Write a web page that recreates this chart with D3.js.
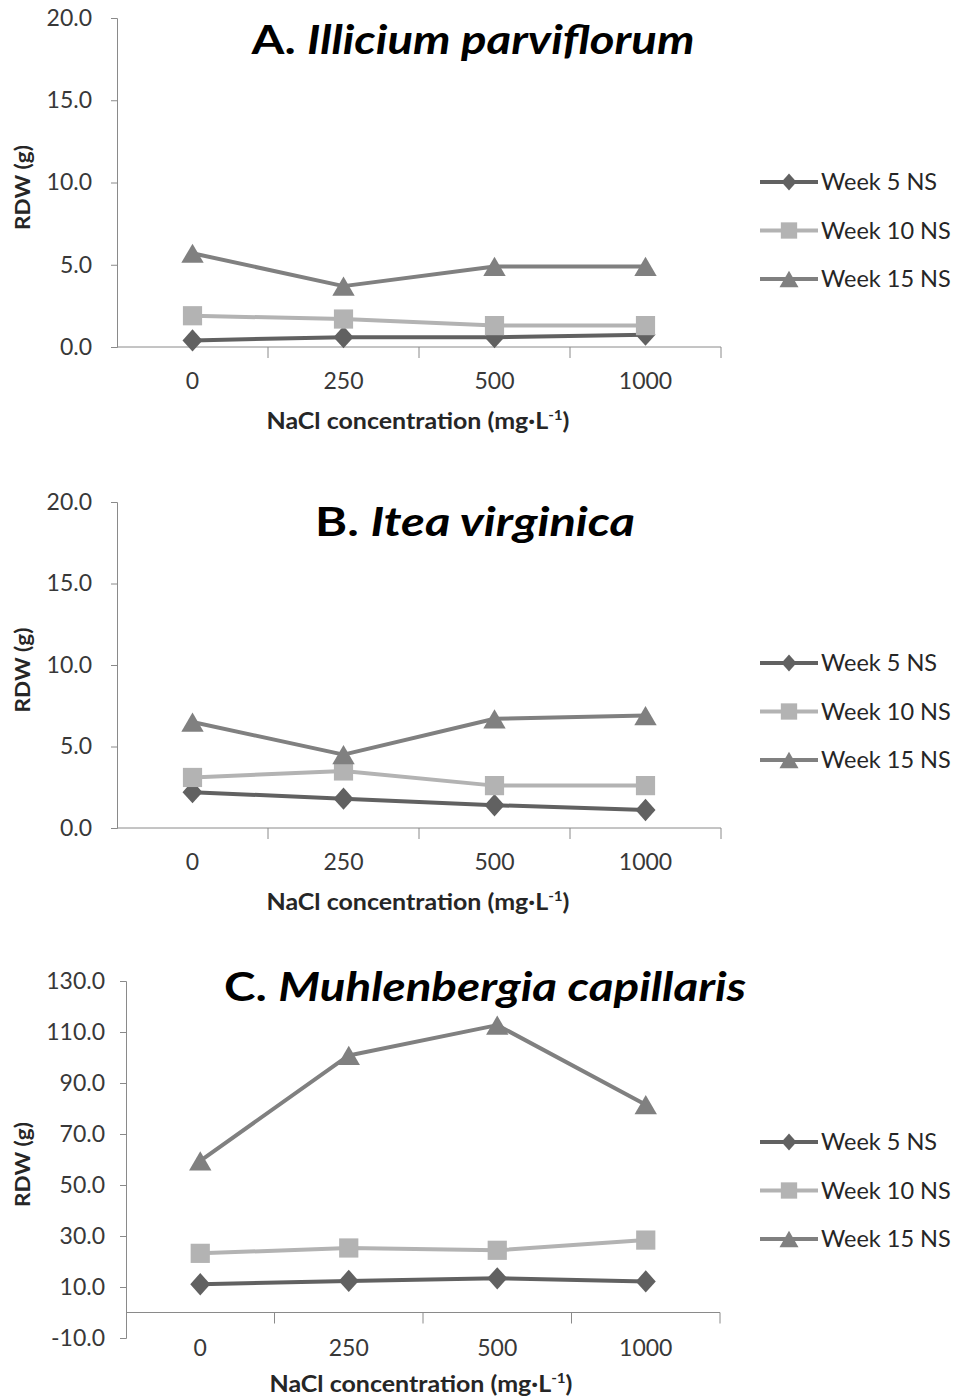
<!DOCTYPE html>
<html>
<head>
<meta charset="utf-8">
<script src="https://cdn.jsdelivr.net/npm/d3@7"></script>
<style>
  html, body { margin: 0; padding: 0; background: #fff; }
  svg { display: block; font-family: Lato, "Open Sans", sans-serif; }
</style>
</head>
<body>
<svg id="chart" width="957" height="1399"></svg>
<script>
// NaCl treatments (mg·L-1) and legend entries
const categories = ["0", "250", "500", "1000"];
const seriesNames = ["Week 5 NS", "Week 10 NS", "Week 15 NS"];

// Root dry weight (g), Illicium parviflorum
const illiciumWeek5 = [0.4, 0.6, 0.6, 0.75];
const illiciumWeek10 = [1.9, 1.7, 1.3, 1.3];
const illiciumWeek15 = [5.7, 3.7, 4.9, 4.9];

// Root dry weight (g), Itea virginica
const iteaWeek5 = [2.2, 1.8, 1.4, 1.1];
const iteaWeek10 = [3.1, 3.5, 2.6, 2.6];
const iteaWeek15 = [6.5, 4.5, 6.7, 6.9];

// Root dry weight (g), Muhlenbergia capillaris
const muhlenbergiaWeek5 = [11.1, 12.4, 13.4, 12.2];
const muhlenbergiaWeek10 = [23.2, 25.3, 24.4, 28.4];
const muhlenbergiaWeek15 = [59.5, 100.8, 112.7, 81.5];

// y-axis tick values
const ticksShrubs = [0, 5, 10, 15, 20];
const ticksGrass = [-10, 10, 30, 50, 70, 90, 110, 130];

const svg = d3.select("#chart");

const seriesStyle = [
  { color: "#616161", shape: "diamond" },
  { color: "#b3b3b3", shape: "square" },
  { color: "#808080", shape: "triangle" }
];

// one decimal, plain hyphen for negatives
const fmt = d => (d < 0 ? "-" : "") + Math.abs(d).toFixed(1);

// marker path generators (centered on 0,0)
function markerPath(shape, s) {
  if (shape === "diamond") {
    const w = s * 0.5, h = s * 0.56;
    return `M0,${-h}L${w},0L0,${h}L${-w},0Z`;
  }
  if (shape === "square") {
    const h = s * 0.48;
    return `M${-h},${-h}H${h}V${h}H${-h}Z`;
  }
  const w = s * 0.56, h = s * 0.48;
  return `M0,${-h}L${w},${h}L${-w},${h}Z`;
}

const panels = [
  {
    genus: "A. ", species: "Illicium parviflorum",
    series: [illiciumWeek5, illiciumWeek10, illiciumWeek15],
    domain: [0, 20], ticks: ticksShrubs,
    left: 117, right: 721, top: 18, bottom: 347,
    titleX: 473, titleY: 54, titleW: 443,
    labelX: 92, legendY: 182
  },
  {
    genus: "B.  ", species: "Itea virginica",
    series: [iteaWeek5, iteaWeek10, iteaWeek15],
    domain: [0, 20], ticks: ticksShrubs,
    left: 117, right: 721, top: 502, bottom: 828,
    titleX: 475, titleY: 536, titleW: 320,
    labelX: 92, legendY: 663
  },
  {
    genus: "C. ", species: "Muhlenbergia capillaris",
    series: [muhlenbergiaWeek5, muhlenbergiaWeek10, muhlenbergiaWeek15],
    domain: [-10, 130], ticks: ticksGrass,
    left: 126, right: 720, top: 981, bottom: 1338,
    titleX: 485, titleY: 1001, titleW: 522,
    labelX: 105, legendY: 1142
  }
];

panels.forEach(p => {
  const g = svg.append("g");

  const x = d3.scaleBand().domain(categories).range([p.left, p.right]).padding(0);
  const y = d3.scaleLinear().domain(p.domain).range([p.bottom, p.top]);
  const axisY = y(Math.max(p.domain[0], 0));

  // y axis
  const yAxis = g.append("g")
    .attr("transform", `translate(${p.left},0)`)
    .call(d3.axisLeft(y).tickValues(p.ticks).tickSize(6).tickPadding(p.left - p.labelX - 6)
      .tickFormat(fmt));
  yAxis.select(".domain").attr("stroke", "#8a8a8a");
  yAxis.selectAll(".tick line").attr("stroke", "#8a8a8a");
  yAxis.selectAll(".tick text")
    .attr("font-size", 23).attr("fill", "#383838")
    .attr("font-family", "Lato, sans-serif");

  // x axis crossing at zero, ticks between categories
  const xAxis = g.append("g")
    .attr("transform", `translate(0,${axisY})`);
  xAxis.append("line")
    .attr("x1", p.left).attr("x2", p.right)
    .attr("stroke", "#8a8a8a");
  const bounds = categories.map(c => x(c)).slice(1).concat([p.right]);
  xAxis.selectAll(".bound").data(bounds).join("line")
    .attr("class", "bound")
    .attr("x1", d => d).attr("x2", d => d)
    .attr("y1", 0).attr("y2", 11)
    .attr("stroke", "#8a8a8a");

  // category labels below the plot
  g.selectAll(".cat").data(categories).join("text")
    .attr("class", "cat")
    .attr("x", d => x(d) + x.bandwidth() / 2)
    .attr("y", p.bottom + (p.domain[0] < 0 ? 18 : 42))
    .attr("text-anchor", "middle")
    .attr("font-size", 23).attr("fill", "#383838")
    .text(d => d);

  // axis titles
  const xt = g.append("text")
    .attr("x", 418 + (p.domain[0] < 0 ? 3 : 0))
    .attr("y", p.bottom + (p.domain[0] < 0 ? 54 : 82))
    .attr("text-anchor", "middle")
    .attr("font-size", 23).attr("font-weight", "bold").attr("fill", "#262626")
    .attr("textLength", 303).attr("lengthAdjust", "spacingAndGlyphs");
  xt.append("tspan").text("NaCl concentration (mg·L");
  xt.append("tspan").attr("font-size", 14).attr("dy", -9).text("-1");
  xt.append("tspan").attr("dy", 9).text(")");

  g.append("text")
    .attr("transform", `translate(30,${(p.top + p.bottom) / 2 + 5}) rotate(-90)`)
    .attr("text-anchor", "middle")
    .attr("font-size", 21).attr("font-weight", "bold").attr("fill", "#262626")
    .attr("textLength", 85).attr("lengthAdjust", "spacingAndGlyphs")
    .text("RDW (g)");

  // panel title
  const t = g.append("text")
    .attr("x", p.titleX).attr("y", p.titleY)
    .attr("text-anchor", "middle")
    .attr("font-size", 40).attr("font-weight", "bold").attr("fill", "#000")
    .attr("textLength", p.titleW).attr("lengthAdjust", "spacingAndGlyphs");
  t.append("tspan").text(p.genus);
  t.append("tspan").attr("font-style", "italic").text(p.species);

  // series lines and markers
  const line = d3.line()
    .x((d, i) => x(categories[i]) + x.bandwidth() / 2)
    .y(d => y(d));

  p.series.forEach((vals, si) => {
    const st = seriesStyle[si];
    g.append("path")
      .datum(vals)
      .attr("d", line)
      .attr("fill", "none")
      .attr("stroke", st.color)
      .attr("stroke-width", 4)
      .attr("stroke-linejoin", "round");
    g.selectAll(".m" + si).data(vals).join("path")
      .attr("class", "m" + si)
      .attr("transform", (d, i) => `translate(${x(categories[i]) + x.bandwidth() / 2},${y(d)})`)
      .attr("d", markerPath(st.shape, 20))
      .attr("fill", st.color);
  });

  // legend
  seriesNames.forEach((name, si) => {
    const st = seriesStyle[si];
    const ly = p.legendY + si * 48.5;
    const lg = g.append("g").attr("transform", `translate(0,${ly})`);
    lg.append("line")
      .attr("x1", 760).attr("x2", 818)
      .attr("stroke", st.color).attr("stroke-width", 4);
    lg.append("path")
      .attr("transform", "translate(789,0)")
      .attr("d", markerPath(st.shape, si === 0 ? 15 : 17))
      .attr("fill", st.color);
    lg.append("text")
      .attr("x", 821).attr("y", 8)
      .attr("font-size", 23.5).attr("fill", "#262626")
      .text(name);
  });
});
</script>
</body>
</html>
